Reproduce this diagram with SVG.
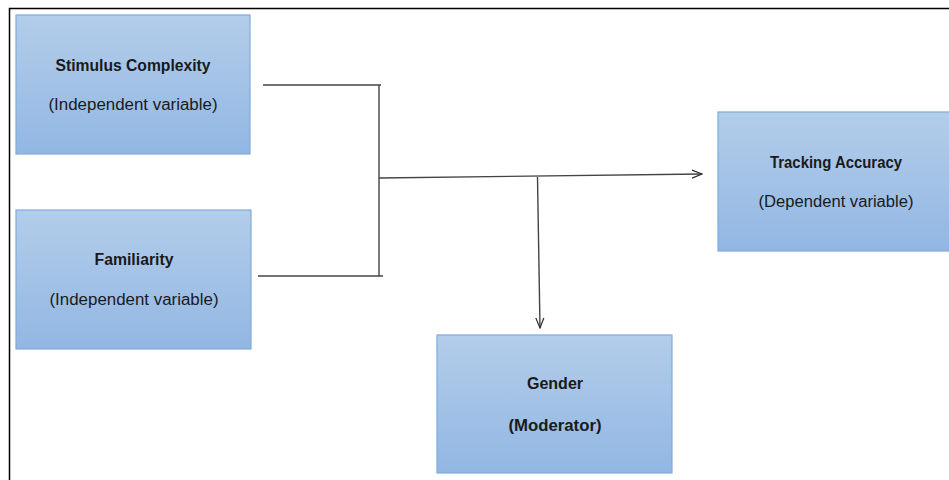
<svg xmlns="http://www.w3.org/2000/svg" width="949" height="480" viewBox="0 0 949 480">
<defs>
<linearGradient id="g" x1="0" y1="0" x2="0" y2="1">
<stop offset="0" stop-color="#b3cdea"/>
<stop offset="1" stop-color="#92b7e3"/>
</linearGradient>
<marker id="arr" markerWidth="12" markerHeight="10" refX="11" refY="5" orient="auto" markerUnits="userSpaceOnUse">
<path d="M1,1 L11,5 L1,9" fill="none" stroke="#303030" stroke-width="1.2"/>
</marker>
<style>
.box{fill:url(#g);stroke:#7faadd;stroke-width:1.2}
.t{font-family:"Liberation Sans",Arial,sans-serif;font-size:16px;fill:#1a1a1a;text-anchor:middle}
.b{font-weight:bold}
.c{fill:none;stroke:#444;stroke-width:1.4}
</style>
</defs>
<rect width="949" height="480" fill="#fff"/>
<path d="M9.5,480 V8.5 H949" fill="none" stroke="#000" stroke-width="1.5"/>
<g id="stimulus">
<rect class="box" x="16" y="15" width="234" height="139"/>
<text class="t b" x="133" y="71" textLength="155" lengthAdjust="spacingAndGlyphs">Stimulus Complexity</text>
<text class="t" x="133" y="110" textLength="169" lengthAdjust="spacingAndGlyphs">(Independent variable)</text>
</g>
<g id="familiarity">
<rect class="box" x="16" y="210" width="235" height="139"/>
<text class="t b" x="134" y="265" textLength="79" lengthAdjust="spacingAndGlyphs">Familiarity</text>
<text class="t" x="134" y="305" textLength="169" lengthAdjust="spacingAndGlyphs">(Independent variable)</text>
</g>
<g id="tracking">
<rect class="box" x="718" y="112" width="240" height="139"/>
<text class="t b" x="836" y="168" textLength="132" lengthAdjust="spacingAndGlyphs">Tracking Accuracy</text>
<text class="t" x="836" y="207" textLength="155" lengthAdjust="spacingAndGlyphs">(Dependent variable)</text>
</g>
<g id="gender">
<rect class="box" x="437" y="335" width="235" height="138"/>
<text class="t b" x="555" y="389" textLength="56" lengthAdjust="spacingAndGlyphs">Gender</text>
<text class="t b" x="555" y="431" textLength="93" lengthAdjust="spacingAndGlyphs">(Moderator)</text>
</g>
<g id="connectors">
<path class="c" d="M263,85 H381"/>
<path class="c" d="M258,276 H383"/>
<path class="c" d="M379,85 V276"/>
<path class="c" d="M379,178 L702,174" marker-end="url(#arr)"/>
<path class="c" d="M537.5,177 L540,328" marker-end="url(#arr)"/>
</g>
</svg>
